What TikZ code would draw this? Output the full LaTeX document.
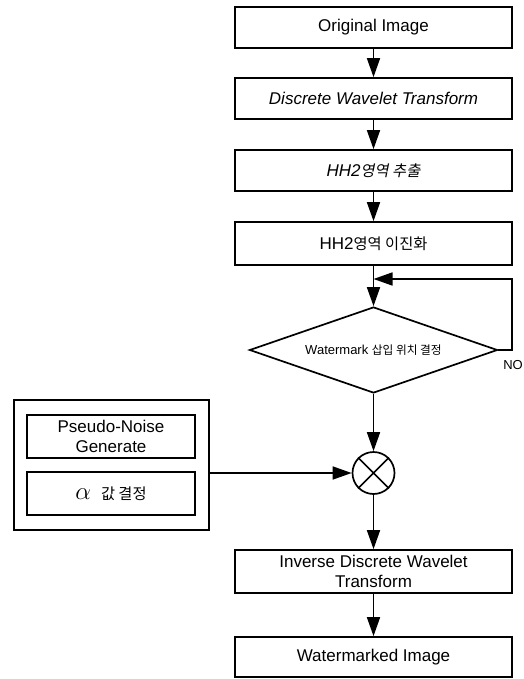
\documentclass[tikz,border=0pt]{standalone}
\usepackage{fontspec}
\setmainfont{Liberation Sans}
\newfontfamily\kr[Scale=0.9]{Noto Sans CJK KR}
\newfontfamily\krit[Scale=0.9,FakeSlant=0.2]{Noto Sans CJK KR}
\usetikzlibrary{shapes.geometric,arrows.meta}
\begin{document}
\begin{tikzpicture}[x=1pt,y=-1pt,
  every node/.style={font=\fontsize{17}{20}\selectfont},
  box/.style={draw,line width=1.7pt,minimum width=277pt,inner sep=0pt,align=center},
  ibox/.style={draw,line width=1.7pt,minimum width=168pt,minimum height=43pt,inner sep=0pt,align=center},
  arr/.style={line width=1.7pt,-{Triangle[length=19pt,width=13pt]}},
  ln/.style={line width=1.7pt}]
\useasboundingbox (0,0) rectangle (523,679);
% main column
\node[box,minimum height=41pt] (b1) at (373.5,27.5) {Original Image};
\node[box,minimum height=41pt] (b2) at (373.5,98.5) {\itshape Discrete Wavelet Transform};
\node[box,minimum height=41pt] (b3) at (373.5,170.5) {\itshape HH2{\krit 영역 추출}};
\node[box,minimum height=43pt] (b4) at (373.5,243.5) {HH2{\kr 영역 이진화}};
\node[draw,diamond,line width=1.7pt,minimum width=248pt,minimum height=86pt,inner sep=0pt,aspect=2.9,
      font=\fontsize{13}{15}\selectfont] (dia) at (373.5,350) {Watermark {\kr 삽입 위치 결정}};
\node[draw,circle,line width=1.7pt,minimum size=42pt,inner sep=0pt] (mix) at (373.5,473) {};
\node[box,minimum height=43pt] (b5) at (373.5,571.5) {Inverse Discrete Wavelet\\Transform};
\node[box,minimum height=40pt] (b6) at (373.5,657) {Watermarked Image};
% left group
\node[draw,line width=1.7pt,minimum width=195pt,minimum height=130pt,inner sep=0pt] (grp) at (111.5,465) {};
\node[ibox] (pn) at (111,436.5) {Pseudo-Noise\\Generate};
\node[ibox] (al) at (111,493.5) {{\fontsize{24}{24}\selectfont$\alpha$}\hspace{10pt}{\kr 값 결정}};
% cross in circle
\draw[ln] (mix.45) -- (mix.225) (mix.135) -- (mix.315);
% connectors
\draw[arr] (b1) -- (b2);
\draw[arr] (b2) -- (b3);
\draw[arr] (b3) -- (b4);
\draw[arr] (b4) -- (dia);
\draw[arr] (dia) -- (mix);
\draw[arr] (mix) -- (b5);
\draw[arr] (b5) -- (b6);
\draw[arr] (grp.east |- mix) -- (mix.west);
% loop back
\coordinate (lr) at (512,350);
\coordinate (ur) at (512,279);
\coordinate (jn) at (373.5,279);
\draw[arr] (dia.east) -- (lr) -- (ur) -- (jn);
\node[font=\fontsize{13}{15}\selectfont] (no) at (513,365) {NO};
\end{tikzpicture}
\end{document}
